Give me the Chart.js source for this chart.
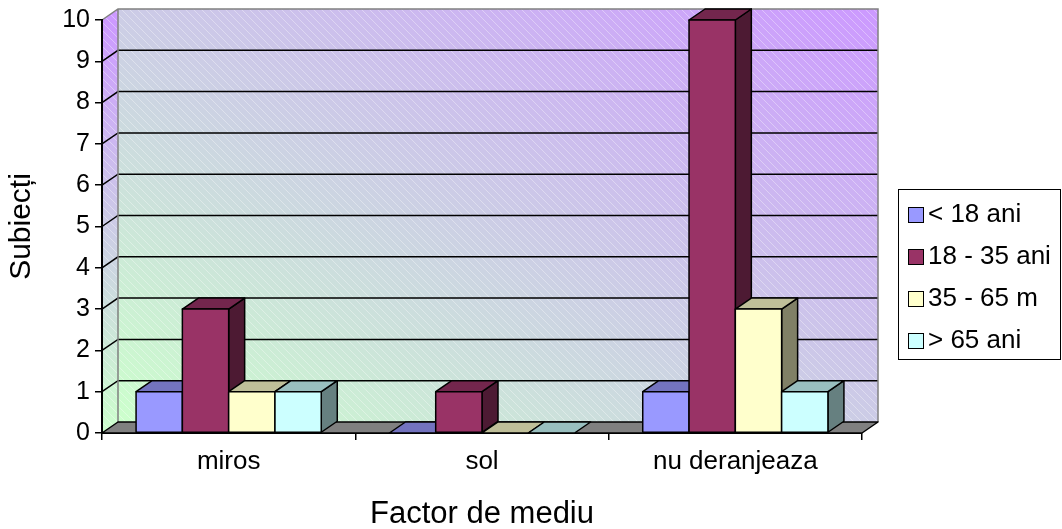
<!DOCTYPE html>
<html>
<head>
<meta charset="utf-8">
<script src="https://cdn.jsdelivr.net/npm/chart.js@4.4.1/dist/chart.umd.min.js"></script>
<style>
  body { margin: 0; background: #fff; }
  #wrap { width: 1062px; height: 529px; }
</style>
</head>
<body>
<div id="wrap"><canvas id="chartFactor"></canvas></div>
<script>
const categories = ['miros', 'sol', 'nu deranjeaza'];
const seriesNames = ['< 18 ani', '18 - 35 ani', '35 - 65 m', '> 65 ani'];
const under18 = [1, 0, 1];
const age18to35 = [3, 1, 10];
const age35to65 = [1, 0, 3];
const over65 = [1, 0, 1];
const yMin = 0, yMax = 10, yStep = 1;

const FONT = "'Liberation Sans', Arial, sans-serif";
const colors = ['#9999FF', '#993366', '#FFFFCC', '#CCFFFF'];
const DX = 16, DY = -11;

function shade(hex, f) {
    const n = parseInt(hex.slice(1), 16);
    const r = Math.round(((n >> 16) & 255) * f);
    const g = Math.round(((n >> 8) & 255) * f);
    const b = Math.round((n & 255) * f);
    return 'rgb(' + r + ',' + g + ',' + b + ')';
}

function poly(ctx, pts, fill, stroke, lw) {
    ctx.beginPath();
    ctx.moveTo(pts[0][0], pts[0][1]);
    for (let i = 1; i < pts.length; i++) ctx.lineTo(pts[i][0], pts[i][1]);
    ctx.closePath();
    if (fill) { ctx.fillStyle = fill; ctx.fill(); }
    if (stroke) { ctx.strokeStyle = stroke; ctx.lineWidth = lw || 1; ctx.stroke(); }
}

function hatch(ctx) {
    const c = document.createElement('canvas');
    c.width = 8; c.height = 8;
    const p = c.getContext('2d');
    p.strokeStyle = 'rgba(255,255,255,0.35)';
    p.lineWidth = 1;
    p.beginPath();
    p.moveTo(0, 0); p.lineTo(8, 8);
    p.moveTo(-4, 4); p.lineTo(4, 12);
    p.moveTo(4, -4); p.lineTo(12, 4);
    p.stroke();
    return ctx.createPattern(c, 'repeat');
}

// walls + grid lines, drawn behind the axes
const wallsPlugin = {
    id: 'walls',
    beforeDraw(chart) {
        const ctx = chart.ctx;
        const a = chart.chartArea;
        const y = chart.scales.y;
        const L = a.left, R = a.right, T = a.top, B = a.bottom;
        ctx.save();

        // back wall, diagonal gradient green -> purple
        const w = R - L, h = B - T;
        const k = 2 * w * h / (w * w + h * h);
        const x0 = L + DX, y0 = B + DY;
        const g = ctx.createLinearGradient(x0, y0, x0 + h * k, y0 - w * k);
        g.addColorStop(0, '#CCFFCC');
        g.addColorStop(0.5, '#CCCCE6');
        g.addColorStop(1, '#CC99FF');
        const back = [[L + DX, T + DY], [R + DX, T + DY], [R + DX, B + DY], [L + DX, B + DY]];
        poly(ctx, back, g);
        poly(ctx, back, hatch(ctx));

        // left side wall
        const sg = ctx.createLinearGradient(0, T, 0, B);
        sg.addColorStop(0, '#CC99FF');
        sg.addColorStop(0.5, '#CCCCE6');
        sg.addColorStop(1, '#CCFFCC');
        const side = [[L, T], [L + DX, T + DY], [L + DX, B + DY], [L, B]];
        poly(ctx, side, sg);
        poly(ctx, side, hatch(ctx));

        // grid lines
        ctx.strokeStyle = '#000';
        ctx.lineWidth = 1.5;
        for (let v = yMin + yStep; v < yMax; v += yStep) {
            const py = y.getPixelForValue(v);
            ctx.beginPath();
            ctx.moveTo(L, py);
            ctx.lineTo(L + DX, py + DY);
            ctx.lineTo(R + DX, py + DY);
            ctx.stroke();
        }

        // wall outline
        ctx.strokeStyle = '#808080';
        ctx.lineWidth = 1.5;
        ctx.beginPath();
        ctx.moveTo(L, T);
        ctx.lineTo(L + DX, T + DY);
        ctx.lineTo(R + DX, T + DY);
        ctx.lineTo(R + DX, B + DY);
        ctx.moveTo(L + DX, T + DY);
        ctx.lineTo(L + DX, B + DY);
        ctx.stroke();
        ctx.restore();
    },
    // floor and 3D bars from the bar elements
    beforeDatasetsDraw(chart) {
        const ctx = chart.ctx;
        const a = chart.chartArea;
        const L = a.left, R = a.right, B = a.bottom;
        ctx.save();
        ctx.lineJoin = 'round';
        poly(ctx, [[L, B], [R, B], [R + DX, B + DY], [L + DX, B + DY]], '#808080', '#000', 1.5);

        const n = chart.data.labels.length;
        for (let i = 0; i < n; i++) {
            chart.data.datasets.forEach((ds, d) => {
                const bar = chart.getDatasetMeta(d).data[i];
                const p = bar.getProps(['x', 'y', 'base', 'width'], true);
                const x1 = p.x - p.width / 2, x2 = p.x + p.width / 2;
                const top = Math.min(p.y, p.base), bot = Math.max(p.y, p.base);
                const c = colors[d];
                if (bot - top > 0.5) {
                    poly(ctx, [[x2, top], [x2 + DX, top + DY], [x2 + DX, bot + DY], [x2, bot]], shade(c, 0.5), '#000', 1.5);
                }
                poly(ctx, [[x1, top], [x2, top], [x2 + DX, top + DY], [x1 + DX, top + DY]], shade(c, 0.75), '#000', 1.5);
                if (bot - top > 0.5) {
                    poly(ctx, [[x1, top], [x2, top], [x2, bot], [x1, bot]], c, '#000', 1.5);
                }
            });
        }
        ctx.restore();
        return false;
    },
    // legend box on the right
    afterDraw(chart) {
        const ctx = chart.ctx;
        const bx = 898, by = 189, bw = 162, bh = 170;
        ctx.save();
        ctx.fillStyle = '#fff';
        ctx.fillRect(bx, by, bw, bh);
        ctx.strokeStyle = '#000';
        ctx.lineWidth = 1;
        ctx.strokeRect(bx + 0.5, by + 0.5, bw, bh);
        ctx.font = '26px ' + FONT;
        ctx.textBaseline = 'middle';
        chart.data.datasets.forEach((ds, d) => {
            const cy = by + 25 + d * 42;
            ctx.fillStyle = colors[d];
            ctx.fillRect(bx + 10, cy - 7, 15, 15);
            ctx.strokeRect(bx + 10.5, cy - 6.5, 15, 15);
            ctx.fillStyle = '#000';
            ctx.fillText(ds.label, bx + 30, cy + 1);
        });
        ctx.restore();
    }
};

const seriesData = [under18, age18to35, age35to65, over65];

const ctx = document.getElementById('chartFactor').getContext('2d');
const chart = new Chart(ctx, {
    type: 'bar',
    data: {
        labels: categories,
        datasets: seriesNames.map((name, d) => ({
            label: name,
            data: seriesData[d],
            backgroundColor: colors[d],
            borderColor: '#000',
            borderWidth: 1,
            barPercentage: 1,
            categoryPercentage: 0.731
        }))
    },
    options: {
        responsive: true,
        maintainAspectRatio: false,
        animation: false,
        layout: { padding: { top: 20, right: 200, left: 0, bottom: 0 } },
        plugins: {
            legend: { display: false },
            tooltip: { enabled: false }
        },
        scales: {
            x: {
                grid: { display: true, drawOnChartArea: false, offset: true, tickLength: 7, color: '#000', lineWidth: 1.5 },
                border: { display: true, color: '#000', width: 2 },
                ticks: { color: '#000', font: { family: FONT, size: 26 }, padding: 6 },
                title: { display: true, text: 'Factor de mediu', color: '#000', font: { family: FONT, size: 31 }, padding: { top: 0, bottom: -4 } },
                afterFit(scale) { scale.height = 96; }
            },
            y: {
                min: yMin,
                max: yMax,
                grid: { display: true, drawOnChartArea: false, tickLength: 7, color: '#000', lineWidth: 1.5 },
                border: { display: true, color: '#000', width: 2 },
                ticks: { stepSize: yStep, color: '#000', font: { family: FONT, size: 25 }, padding: 5 },
                title: { display: true, text: 'Subiecți', color: '#000', font: { family: FONT, size: 30 }, padding: { top: 4, bottom: 0 } },
                afterFit(scale) { scale.width = 102; }
            }
        }
    },
    plugins: [wallsPlugin]
});
</script>
</body>
</html>
